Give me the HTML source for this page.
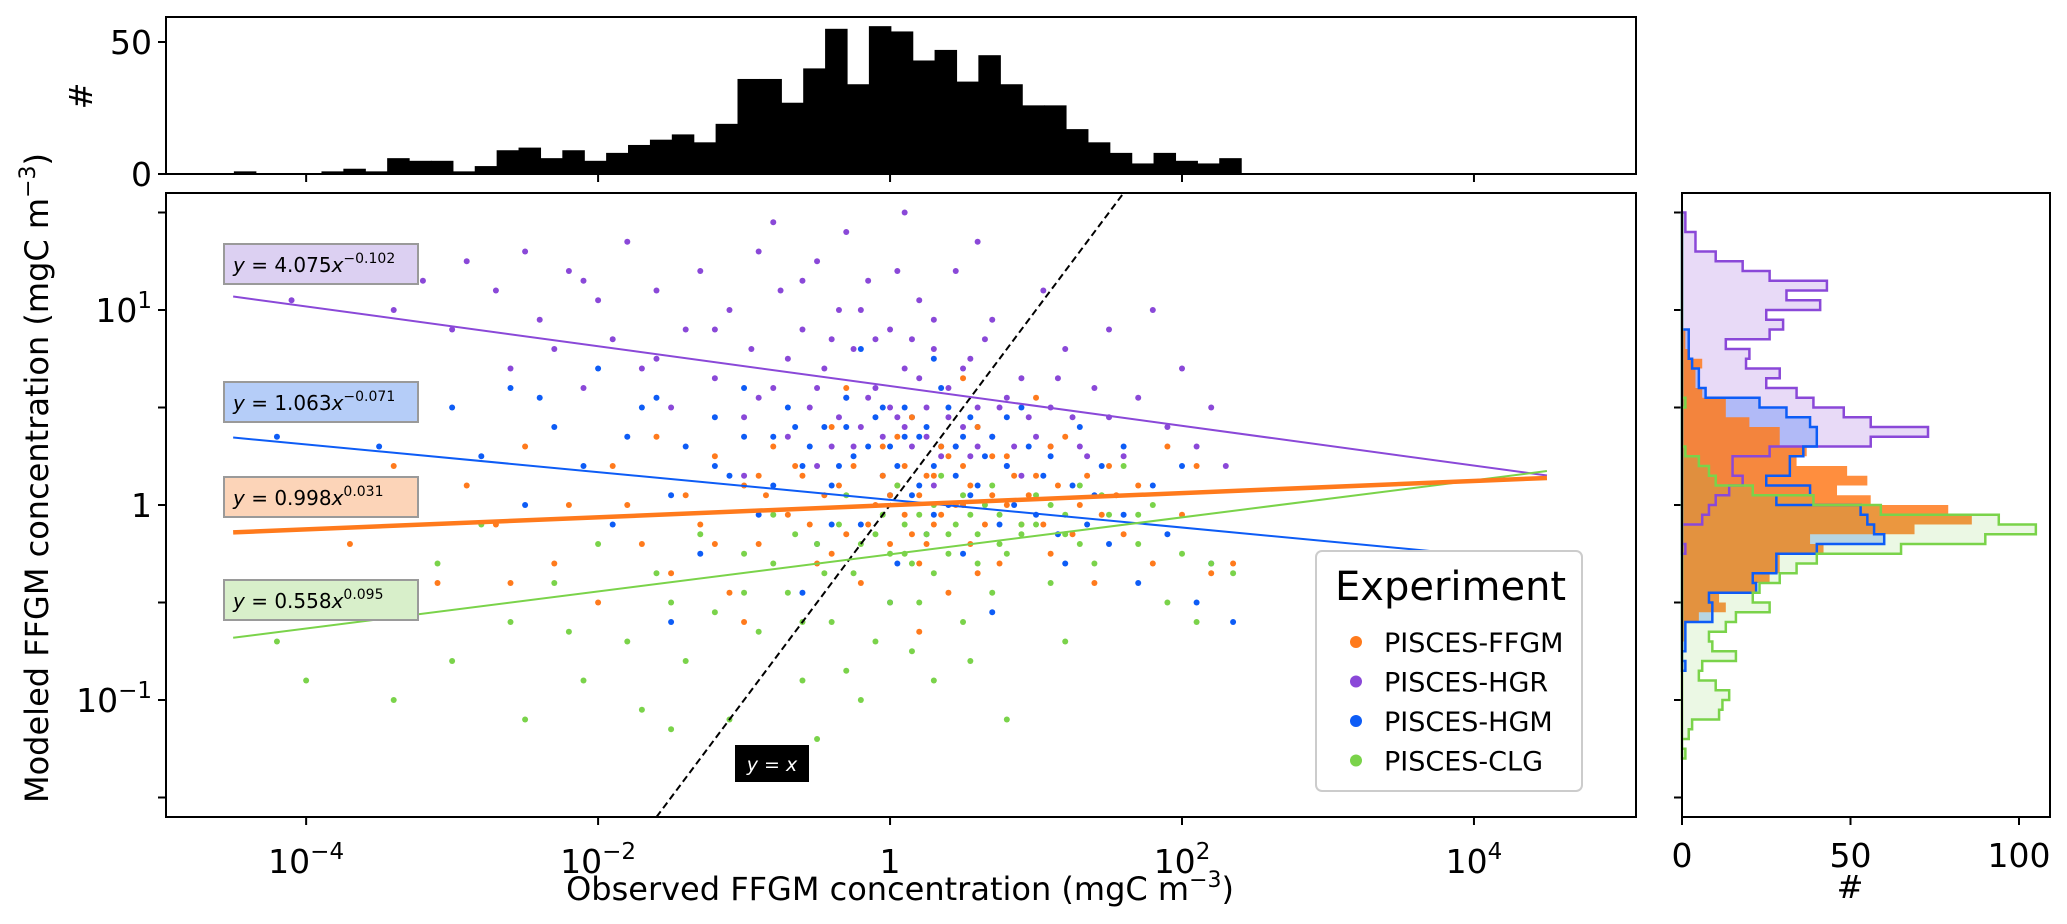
<!DOCTYPE html>
<html><head><meta charset="utf-8"><style>
html,body{margin:0;padding:0;background:#fff;}
svg{display:block;font-family:"DejaVu Sans","Liberation Sans",sans-serif;}
</style></head><body>
<svg id="fig" width="2067" height="924" viewBox="0 0 2067 924" xmlns="http://www.w3.org/2000/svg">
<g id="topHist"></g>
<g id="main"></g>
<g id="rightHist"></g>
</svg>
<script>
// ---- data ----
const topBinStart = -4.495;
const topBinWidth = 0.15;
const topCounts = [1,0,0,0,1,2,1,6,5,5,1,3,9,10,6,9,5,8,11,13,15,12,19,36,36,27,40,55,34,56,54,43,47,35,45,34,26,26,17,12,8,4,8,5,4,6];

const rightBinTop = 1.5;
const rightBinWidth = 0.05;
const countsHGR = [1,1,4,4,10,18,26,43,31,41,25,30,26,13,20,19,29,25,34,39,48,56,73,56,26,15,15,18,14,10,8,6,0,0,1];
const countsHGM = [0,0,0,0,0,0,0,0,0,0,0,0,2,2,2,3,5,5,7,23,31,38,40,40,36,32,32,25,38,28,53,55,57,60,40,28,28,21,22,8,9,9,1,1,1,0,1];
const countsFFGM = [0,0,0,0,0,0,0,0,0,0,0,0,1,1,2,6,4,4,6,13,13,20,29,29,37,34,49,55,46,56,79,86,69,38,42,29,29,26,22,11,13,5,1,1];
const countsCLG = [0,0,0,0,0,0,0,0,0,0,0,0,0,0,0,0,0,0,0,1,0,0,0,0,1,5,8,10,21,39,59,94,105,90,65,40,34,29,23,21,26,16,13,8,9,16,6,5,10,14,12,11,3,2,0,1];

const seriesNames = ["PISCES-FFGM","PISCES-HGR","PISCES-HGM","PISCES-CLG"];
const fitA = [0.998, 4.075, 1.063, 0.558];
const fitB = [0.031, -0.102, -0.071, 0.095];
const fitLabelA = ["0.998","4.075","1.063","0.558"];
const fitLabelB = ["0.031","\u22120.102","\u22120.071","0.095"];

const ptsHGR = [[-4.3,1.2],[-4.1,1.05],[-3.6,1.3],[-3.4,1.0],[-3.2,1.15],[-3.0,0.9],[-2.9,1.25],[-2.7,1.1],[-2.6,0.7],[-2.5,1.3],[-2.4,0.95],[-2.3,0.8],[-2.2,1.2],[-2.1,0.6],[-2.0,1.05],[-1.9,0.85],[-1.8,1.35],[-1.7,0.7],[-1.6,1.1],[-1.5,0.5],[-1.4,0.9],[-1.3,1.2],[-1.2,0.65],[-1.1,1.0],[-1.0,0.45],[-0.95,0.8],[-0.9,1.3],[-0.8,0.6],[-0.75,1.1],[-0.7,0.35],[-0.6,0.9],[-0.55,0.5],[-0.5,1.25],[-0.45,0.7],[-0.4,0.3],[-0.35,1.0],[-0.3,0.55],[-0.25,0.8],[-0.2,0.4],[-0.15,1.15],[-0.1,0.6],[-0.05,0.35],[0,0.9],[0.05,0.45],[0.1,0.7],[0.15,0.3],[0.2,1.05],[0.25,0.5],[0.3,0.8],[0.35,0.25],[0.4,0.6],[0.45,1.2],[0.5,0.4],[0.55,0.75],[0.6,0.3],[0.7,0.95],[0.75,0.5],[0.8,0.2],[0.9,0.65],[1.0,0.35],[1.05,1.1],[1.1,0.5],[1.2,0.8],[1.3,0.3],[1.4,0.6],[1.5,0.9],[1.6,0.25],[1.7,0.55],[1.8,1.0],[1.9,0.4],[2.0,0.7],[2.1,0.3],[2.2,0.5],[2.3,0.2],[-0.5,0.2],[0.3,0.1],[0.9,0.15],[-1.0,0.15],[0.1,1.5],[-0.8,1.45],[0.6,1.35],[-0.3,1.4],
 [-0.9,0.55],[-0.7,0.75],[-0.6,1.15],[-0.4,0.85],[-0.35,0.45],[-0.2,1.0],[-0.15,0.55],[-0.1,0.85],[0.0,0.5],[0.05,1.2],[0.1,0.4],[0.2,0.65],[0.25,0.35],[0.3,0.95],[0.4,0.45],[0.45,0.3],[0.5,0.7],[0.6,0.5],[0.65,0.85],[0.7,0.35],[0.8,0.55],[0.85,0.3],[0.95,0.45],[1.1,0.3],[1.15,0.65],[1.25,0.45],[1.35,0.25],[1.5,0.45],[-0.5,0.6],[-0.25,0.3],[0.15,0.85],[-1.2,0.9],[-1.6,0.75],[-2.1,1.15],[0.55,0.25]];
const ptsHGM = [[-4.2,0.35],[-3.9,0.45],[-3.5,0.3],[-3.3,0.1],[-3.0,0.5],[-2.8,0.25],[-2.6,0.6],[-2.5,0.0],[-2.3,0.4],[-2.1,0.2],[-2.0,0.7],[-1.9,-0.1],[-1.8,0.35],[-1.6,0.55],[-1.5,0.05],[-1.4,0.3],[-1.3,-0.25],[-1.2,0.45],[-1.1,0.15],[-1.0,0.6],[-0.9,-0.05],[-0.8,0.35],[-0.7,0.5],[-0.6,0.2],[-0.5,-0.2],[-0.45,0.4],[-0.4,0.1],[-0.3,0.55],[-0.25,0.25],[-0.2,-0.1],[-0.1,0.45],[-0.05,0.15],[0,0.3],[0.05,-0.3],[0.1,0.5],[0.15,0.05],[0.2,0.35],[0.25,-0.15],[0.3,0.2],[0.35,0.6],[0.4,0.0],[0.45,0.3],[0.5,-0.25],[0.55,0.45],[0.6,0.1],[0.7,0.35],[0.75,-0.1],[0.8,0.2],[0.9,0.5],[1.0,-0.05],[1.1,0.25],[1.2,-0.3],[1.3,0.4],[1.4,0.05],[1.5,-0.2],[1.6,0.3],[1.7,-0.4],[1.8,0.1],[1.9,-0.15],[2.0,0.2],[2.1,-0.5],[2.2,-0.3],[2.35,-0.6],[0.0,-0.5],[-0.6,-0.45],[0.7,-0.55],[-1.5,-0.6],[0.3,0.75],[-0.2,0.8],
 [-0.8,0.1],[-0.65,0.4],[-0.55,0.3],[-0.35,0.2],[-0.3,0.4],[-0.15,0.3],[-0.05,0.5],[0.05,0.2],[0.1,0.35],[0.15,0.45],[0.2,0.1],[0.25,0.4],[0.35,0.3],[0.4,0.5],[0.45,0.15],[0.5,0.35],[0.55,0.05],[0.6,0.4],[0.65,0.25],[0.8,0.45],[0.85,0.0],[0.95,0.3],[1.05,0.15],[1.15,-0.15],[1.25,0.1],[1.35,-0.1],[1.45,0.2],[1.6,-0.05],[-1.2,0.2],[-1.0,0.35],[-0.4,-0.1],[0.0,0.05],[0.3,-0.05],[-2.4,0.55],[-1.7,0.5]];
const ptsFFGM = [[-4.1,0.05],[-3.7,-0.2],[-3.4,0.2],[-3.1,-0.4],[-2.9,0.1],[-2.7,-0.1],[-2.5,0.3],[-2.3,-0.3],[-2.2,0.0],[-2.0,-0.5],[-1.9,0.2],[-1.7,-0.2],[-1.6,0.35],[-1.5,-0.35],[-1.4,0.05],[-1.3,-0.1],[-1.2,0.25],[-1.1,-0.45],[-1.0,0.1],[-0.9,-0.2],[-0.8,0.3],[-0.7,-0.05],[-0.6,0.15],[-0.5,-0.3],[-0.45,0.05],[-0.4,0.4],[-0.3,-0.15],[-0.25,0.2],[-0.2,-0.4],[-0.1,0.0],[-0.05,0.3],[0,-0.2],[0.05,0.1],[0.1,-0.05],[0.15,0.45],[0.2,-0.3],[0.25,0.15],[0.3,-0.1],[0.35,0.3],[0.4,-0.45],[0.45,0.0],[0.5,0.2],[0.55,-0.2],[0.6,0.4],[0.7,0.05],[0.75,-0.3],[0.8,0.25],[0.9,-0.1],[1.0,0.15],[1.1,-0.25],[1.2,0.35],[1.3,0.0],[1.4,-0.4],[1.5,0.2],[1.6,-0.15],[1.7,0.1],[1.8,-0.3],[1.9,0.3],[2.0,-0.05],[2.1,0.2],[2.2,-0.35],[2.35,-0.3],[-0.3,0.6],[0.5,0.65],[-1.0,-0.6],[0.2,-0.65],[1.0,0.55],
 [-0.85,0.05],[-0.65,0.2],[-0.55,-0.1],[-0.35,0.1],[-0.15,-0.1],[-0.05,0.15],[0.0,0.05],[0.1,0.2],[0.15,-0.15],[0.2,0.05],[0.3,0.15],[0.35,-0.05],[0.4,0.25],[0.5,0.0],[0.55,0.1],[0.65,-0.1],[0.7,0.25],[0.8,0.0],[0.85,0.15],[0.95,0.05],[1.05,-0.1],[1.15,0.1],[1.25,-0.15],[1.35,0.15],[1.45,-0.05],[1.55,0.05],[-1.2,-0.2],[-0.9,0.15],[-0.4,-0.25],[0.25,-0.2],[0.6,-0.35],[1.1,0.3],[-1.8,0.0],[-2.6,-0.4],[0.05,0.35]];
const ptsCLG = [[-4.2,-0.7],[-4.0,-0.9],[-3.6,-0.5],[-3.4,-1.0],[-3.1,-0.3],[-3.0,-0.8],[-2.8,-0.1],[-2.6,-0.6],[-2.5,-1.1],[-2.3,-0.4],[-2.1,-0.9],[-2.0,-0.2],[-1.8,-0.7],[-1.7,-1.05],[-1.6,-0.35],[-1.4,-0.8],[-1.3,-0.15],[-1.2,-0.55],[-1.1,-1.1],[-1.0,-0.25],[-0.9,-0.65],[-0.8,-0.05],[-0.7,-0.45],[-0.6,-0.9],[-0.5,-0.2],[-0.4,-0.6],[-0.3,0.05],[-0.25,-0.35],[-0.2,-1.0],[-0.1,-0.15],[0,-0.5],[0.05,0.1],[0.1,-0.25],[0.15,-0.75],[0.2,-0.05],[0.3,-0.35],[0.35,0.15],[0.4,-0.15],[0.5,-0.6],[0.55,-0.05],[0.6,-0.3],[0.7,0.1],[0.75,-0.2],[0.8,-1.1],[0.9,-0.1],[1.0,0.05],[1.1,-0.4],[1.2,-0.15],[1.3,0.1],[1.4,-0.3],[1.5,-0.05],[1.6,0.2],[1.7,-0.2],[1.8,0.0],[1.9,-0.5],[2.0,-0.25],[2.1,-0.6],[2.2,-0.3],[2.35,-0.35],[-1.5,-1.15],[-0.5,-1.2],[0.3,-0.9],[1.2,-0.7],
 [-0.8,-0.3],[-0.65,-0.15],[-0.45,-0.35],[-0.35,-0.1],[-0.2,-0.2],[-0.05,-0.05],[0.0,-0.25],[0.1,-0.1],[0.15,-0.3],[0.25,-0.15],[0.3,0.0],[0.4,-0.25],[0.45,-0.1],[0.5,0.05],[0.6,-0.15],[0.65,0.0],[0.75,-0.05],[0.8,-0.25],[0.9,-0.15],[1.0,-0.1],[1.1,0.0],[1.2,-0.05],[1.3,-0.2],[1.45,0.05],[-1.0,-0.45],[-0.6,-0.6],[-0.1,-0.7],[0.2,-0.5],[0.7,-0.45],[-1.5,-0.5],[-2.2,-0.65],[-3.3,-0.45],[-0.3,-0.85],[0.55,-0.8],[1.7,-0.05]];

const xTickVals = [-4,-2,0,2,4];
const xTickLabels = ["10<tspan dy='-14' font-size='23'>\u22124</tspan>","10<tspan dy='-14' font-size='23'>\u22122</tspan>","1","10<tspan dy='-14' font-size='23'>2</tspan>","10<tspan dy='-14' font-size='23'>4</tspan>"];
const yTickVals = [1,0,-1];
const yTickLabels = ["10<tspan dy='-14' font-size='23'>1</tspan>","1","10<tspan dy='-14' font-size='23'>\u22121</tspan>"];
const topTickVals = [0,50];
const rightTickVals = [0,50,100];

// ---- geometry ----
const NS="http://www.w3.org/2000/svg";
const L=166,R=1636,T=193,B=817;
const xMin=-4.96,xMax=5.11,yMin=-1.6,yMax=1.6;
const sx=v=>L+(v-xMin)/(xMax-xMin)*(R-L);
const sy=v=>B-(v-yMin)/(yMax-yMin)*(B-T);
const HT=17,HB=174; const hc=c=>HB-c*2.64;
const RL=1682,RR=2050; const rc=c=>RL+c*3.37;
const colors={"PISCES-FFGM":"#ff7a1c","PISCES-HGR":"#8a48d8","PISCES-HGM":"#0d5cf6","PISCES-CLG":"#7ad34a"};

function mk(tag,attrs,parent){const e=document.createElementNS(NS,tag);for(const k in attrs)e.setAttribute(k,attrs[k]);parent.appendChild(e);return e;}
const gTop=document.getElementById('topHist'),gMain=document.getElementById('main'),gRight=document.getElementById('rightHist');

// top histogram
topCounts.forEach((c,i)=>{ if(!c) return;
  const x0=sx(topBinStart+i*topBinWidth),x1=sx(topBinStart+(i+1)*topBinWidth);
  const r=mk('rect',{x:x0,y:hc(c),width:x1-x0+0.6,height:HB-hc(c),fill:'#000'},gTop);
  
  
});
let fr=mk('rect',{x:L,y:HT,width:R-L,height:HB-HT,fill:'none',stroke:'#000','stroke-width':2},gTop);


topTickVals.forEach(v=>{mk('line',{x1:L-8,x2:L,y1:hc(v),y2:hc(v),stroke:'#000','stroke-width':2},gTop);
  const t=mk('text',{x:L-14,y:hc(v)+12,'text-anchor':'end','font-size':33},gTop);t.textContent=v;
  
  });
xTickVals.forEach(v=>mk('line',{x1:sx(v),x2:sx(v),y1:HB,y2:HB+8,stroke:'#000','stroke-width':2},gTop));
let th=mk('text',{x:0,y:0,'text-anchor':'middle','font-size':32,transform:'translate(92,96) rotate(-90)'},gTop);th.textContent='#';



// main panel
const clip=mk('clipPath',{id:'mc'},gMain);mk('rect',{x:L,y:T,width:R-L,height:B-T},clip);
const plot=mk('g',{'clip-path':'url(#mc)'},gMain);
[ptsHGR,ptsHGM,ptsFFGM,ptsCLG].forEach((ps,j)=>{
  const name=["PISCES-HGR","PISCES-HGM","PISCES-FFGM","PISCES-CLG"][j];
  ps.forEach(p=>{const c=mk('circle',{cx:sx(p[0]),cy:sy(p[1]),r:3,fill:colors[name]},plot);
    
    });
});
// y=x line
let yx=mk('line',{x1:sx(yMin),y1:sy(yMin),x2:sx(yMax),y2:sy(yMax),stroke:'#000','stroke-width':2,'stroke-dasharray':'7,4'},plot);


// fit lines
const fitX0=-4.5,fitX1=4.5;
[1,2,3,0].forEach(i=>{
  const f=v=>Math.log10(fitA[i])+fitB[i]*v;
  const l=mk('line',{x1:sx(fitX0),y1:sy(f(fitX0)),x2:sx(fitX1),y2:sy(f(fitX1)),stroke:colors[seriesNames[i]],'stroke-width':i===0?4.5:2},plot);
  
  
});
// equation boxes
const boxFill=["#fcd4b8","#dcd0f2","#b5cdf8","#d8efca"];
const boxY=[477,244,382,580];
[1,2,0,3].forEach(i=>{
  const g=mk('g',{},gMain);
  
  
  mk('rect',{x:224,y:boxY[i],width:194,height:40,fill:boxFill[i],stroke:'#9a9a9a','stroke-width':2},g);
  const t=mk('text',{x:233,y:boxY[i]+28,'font-size':20},g);
  t.innerHTML="<tspan font-style='italic'>y</tspan> = "+fitLabelA[i]+"<tspan font-style='italic'>x</tspan><tspan dy='-9' font-size='14'>"+fitLabelB[i]+"</tspan>";
});
// y=x label
let yxl=mk('g',{},gMain);


mk('rect',{x:735,y:745,width:74,height:37,fill:'#000'},yxl);
let yt=mk('text',{x:772,y:771,'text-anchor':'middle','font-size':19,fill:'#fff'},yxl);
yt.innerHTML="<tspan font-style='italic'>y</tspan> = <tspan font-style='italic'>x</tspan>";
// frame & ticks
let mf=mk('rect',{x:L,y:T,width:R-L,height:B-T,fill:'none',stroke:'#000','stroke-width':2},gMain);


xTickVals.forEach((v,i)=>{mk('line',{x1:sx(v),x2:sx(v),y1:B,y2:B+8,stroke:'#000','stroke-width':2},gMain);
  const t=mk('text',{x:sx(v),y:B+56,'text-anchor':'middle','font-size':33},gMain);t.innerHTML=xTickLabels[i];
  
  });
for(let v=-1.5;v<=1.5;v+=0.5){mk('line',{x1:L-8,x2:L,y1:sy(v),y2:sy(v),stroke:'#000','stroke-width':2},gMain);
  mk('line',{x1:RL-8,x2:RL,y1:sy(v),y2:sy(v),stroke:'#000','stroke-width':2},gRight);}
yTickVals.forEach((v,i)=>{const t=mk('text',{x:L-14,y:sy(v)+12,'text-anchor':'end','font-size':33},gMain);t.innerHTML=yTickLabels[i];
  
  });
let xl=mk('text',{x:sx(0)+10,y:900,'text-anchor':'middle','font-size':32},gMain);
xl.innerHTML="Observed FFGM concentration (mgC m<tspan dy='-13' font-size='22'>\u22123</tspan><tspan dy='13'>)</tspan>";


let yl=mk('text',{x:0,y:0,'text-anchor':'middle','font-size':32,transform:'translate(48,478) rotate(-90)'},gMain);
yl.innerHTML="Modeled FFGM concentration (mgC m<tspan dy='-13' font-size='22'>\u22123</tspan><tspan dy='13'>)</tspan>";


// legend
const lg=mk('g',{},gMain);


mk('rect',{x:1316,y:551,width:266,height:240,rx:6,fill:'#fff',stroke:'#cccccc','stroke-width':2},lg);
let lt=mk('text',{x:1335,y:600,'font-size':40},lg);lt.textContent='Experiment';
seriesNames.forEach((n,i)=>{const yy=642+i*39.5;
  const e=mk('g',{},lg);
  
  
  mk('circle',{cx:1356,cy:yy,r:6,fill:colors[n]},e);
  const t=mk('text',{x:1384,y:yy+10,'font-size':27},e);t.textContent=n;});

// right histograms
function stepPath(counts){
  let d='M'+RL+','+sy(rightBinTop);
  counts.forEach((c,i)=>{const y0=sy(rightBinTop-i*rightBinWidth),y1=sy(rightBinTop-(i+1)*rightBinWidth);
    d+=' L'+rc(c)+','+y0+' L'+rc(c)+','+y1;});
  d+=' L'+RL+','+sy(rightBinTop-counts.length*rightBinWidth)+' Z';return d;}
const fills=[[countsHGR,'#8a48d8',0.2,2.5],[countsHGM,'#0d5cf6',0.25,2.5],[countsFFGM,'#ff7a1c',0.85,0],[countsCLG,'#7ad34a',0.15,2.5]];
fills.forEach(f=>{const p=mk('path',{d:stepPath(f[0]),fill:f[1],'fill-opacity':f[2],stroke:'none'},gRight);
  
  });
fills.forEach(f=>{if(!f[3])return;const p=mk('path',{d:stepPath(f[0]),fill:'none',stroke:f[1],'stroke-width':f[3]},gRight);
  
  });
let rf=mk('rect',{x:RL,y:T,width:RR-RL,height:B-T,fill:'none',stroke:'#000','stroke-width':2},gRight);


rightTickVals.forEach(v=>{mk('line',{x1:rc(v),x2:rc(v),y1:B,y2:B+8,stroke:'#000','stroke-width':2},gRight);
  const t=mk('text',{x:rc(v),y:B+50,'text-anchor':'middle','font-size':33},gRight);t.textContent=v;
  
  });
let rh=mk('text',{x:1850,y:898,'text-anchor':'middle','font-size':32},gRight);rh.textContent='#';


</script>
</body></html>
